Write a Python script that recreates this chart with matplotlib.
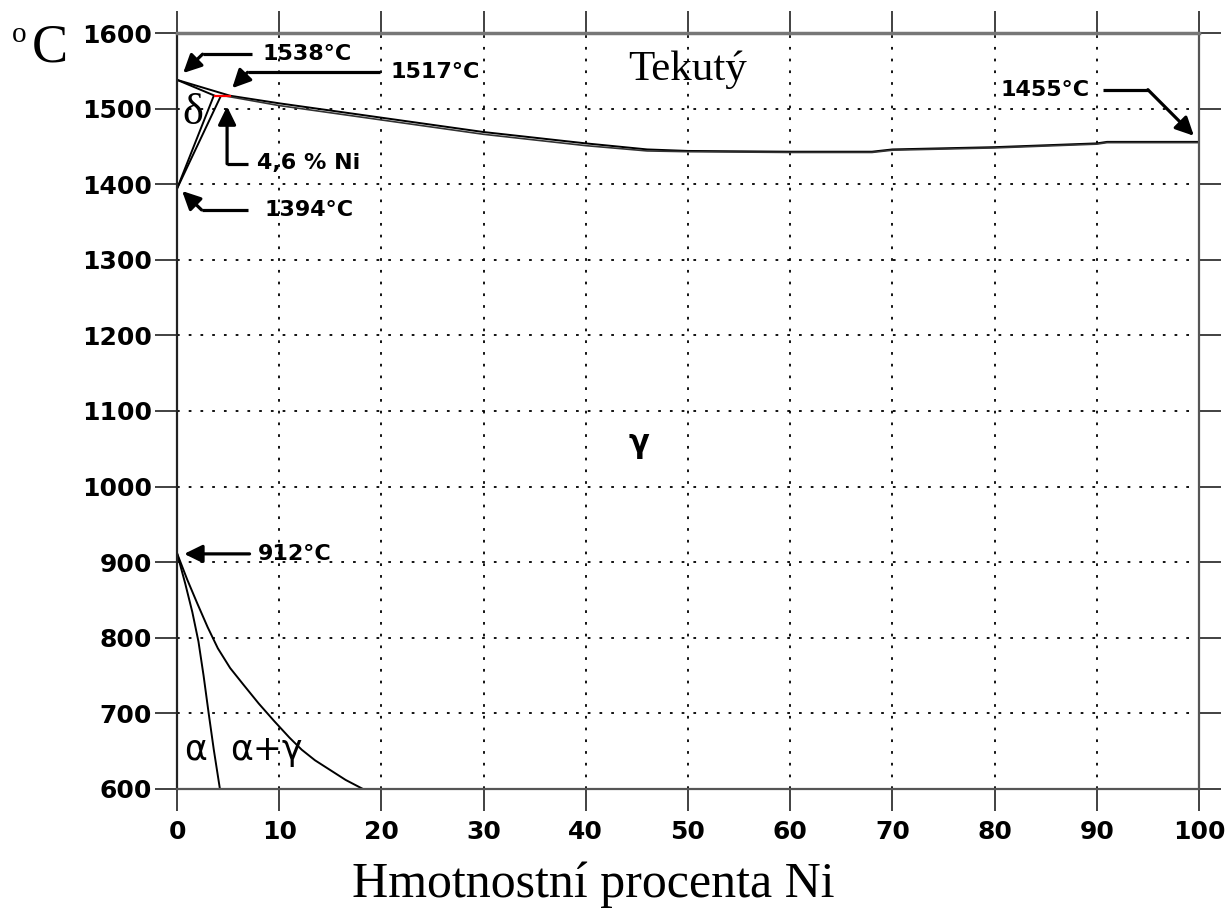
import matplotlib
matplotlib.use("Agg")
import matplotlib.pyplot as plt

# ---------------- data ----------------
x_ticks = [0, 10, 20, 30, 40, 50, 60, 70, 80, 90, 100]
y_ticks = [600, 700, 800, 900, 1000, 1100, 1200, 1300, 1400, 1500, 1600]

# liquidus (L / gamma and L / delta)
liq_x = [0, 5.2, 10, 20, 30, 40, 46, 50, 60, 68, 70, 80, 90, 91, 100]
liq_y = [1538, 1517, 1507, 1488, 1469, 1454, 1446, 1444, 1443, 1443, 1446, 1449, 1454, 1456, 1456]
# gamma solidus
sol_x = [4.6, 10, 20, 30, 40, 46, 50, 60, 68, 70, 80, 90, 91, 100]
sol_y = [1517, 1504, 1485, 1466, 1451, 1444, 1443, 1442, 1442, 1445, 1448, 1453, 1455, 1455]
# delta solidus
dsol_x = [0, 3.7]
dsol_y = [1538, 1517]
# delta solvus lines
dsv1_x = [0, 3.6]
dsv1_y = [1394, 1517]
dsv2_x = [0, 4.3]
dsv2_y = [1394, 1517]
# peritectic segment
per_x = [3.7, 5.2]
per_y = [1517, 1517]
# alpha / alpha+gamma boundary
a_x = [0, 0.8, 1.5, 2.1, 2.6, 3.1, 3.6, 4.2]
a_y = [912, 872, 834, 795, 750, 700, 652, 600]
# gamma / alpha+gamma boundary
g_x = [0, 1.0, 2.0, 3.0, 4.0, 5.2, 6.5, 8.0, 9.5, 11.0, 12.2, 13.5, 15.0, 16.5, 18.2]
g_y = [912, 877, 845, 814, 786, 760, 738, 713, 690, 668, 652, 638, 625, 612, 600]

# annotations: label, text pos, tail, bend, tip
annots = [
    ("1538°C", (8.4, 1572), (7.3, 1572), (2.5, 1572), (0.6, 1547)),
    ("1517°C", (20.9, 1548), (19.9, 1548), (6.9, 1548), (5.4, 1527)),
    ("4,6 % Ni", (7.8, 1428), (6.9, 1427), (4.9, 1427), (4.9, 1503)),
    ("1394°C", (8.6, 1366), (6.9, 1366), (2.4, 1366), (0.5, 1391)),
    ("912°C", (7.9, 911), (7.1, 911), (7.1, 911), (0.7, 911)),
    ("1455°C", (80.6, 1525), (90.6, 1525), (95.0, 1525), (99.5, 1464)),
]

# ---------------- figure ----------------
W, H = 1231, 908
fig = plt.figure(figsize=(W / 100, H / 100), dpi=100)
ax = fig.add_axes([177 / W, 1 - 789 / H, (1199 - 177) / W, (789 - 33) / H])
ax.set_xlim(0, 100)
ax.set_ylim(600, 1600)
ax.set_xticks(x_ticks)
ax.set_yticks(y_ticks)

ax.grid(True, color="black", linestyle=(0, (1.5, 5)), linewidth=1.3)
ax.tick_params(axis="both", which="major", direction="out", length=16, width=1.3,
               color="#333333", top=True, right=True, labeltop=False, labelright=False)
ax.tick_params(axis="x", pad=6)
ax.tick_params(axis="y", pad=2)
for lab in ax.get_xticklabels() + ax.get_yticklabels():
    lab.set_fontfamily("DejaVu Sans")
    lab.set_fontweight("bold")
    lab.set_fontsize(18)
for side, sp in ax.spines.items():
    sp.set_color("#555555")
    sp.set_linewidth(1.6)
ax.spines["top"].set_color("#777777")
ax.spines["top"].set_linewidth(2.5)
ax.spines["left"].set_color("#222222")

# phase lines
lk = dict(color="black", lw=1.4, solid_capstyle="round")
ax.plot(liq_x, liq_y, **lk)
ax.plot(sol_x, sol_y, color="#333333", lw=1.2)
ax.plot(dsol_x, dsol_y, **lk)
ax.plot(dsv1_x, dsv1_y, **lk)
ax.plot(dsv2_x, dsv2_y, **lk)
ax.plot(per_x, per_y, color="red", lw=1.6)
ax.plot(a_x, a_y, **lk)
ax.plot(g_x, g_y, **lk)

# arrows and labels
for text, tpos, tail, bend, tip in annots:
    ax.plot([tail[0], bend[0]], [tail[1], bend[1]], color="black", lw=2.3,
            solid_capstyle="butt")
    ax.annotate("", xy=tip, xytext=bend,
                arrowprops=dict(arrowstyle="-|>,head_length=0.55,head_width=0.27",
                                mutation_scale=20, lw=2.3, color="black",
                                shrinkA=0, shrinkB=0))
    ax.text(tpos[0], tpos[1], text, fontsize=16, fontweight="bold",
            family="DejaVu Sans", ha="left", va="center")

# region labels
ax.text(50.0, 1538, "Tekutý", fontsize=31, family="Liberation Serif",
        ha="center", va="baseline")
ax.text(1.5, 1494, "δ", fontsize=32, family="Liberation Serif", ha="center", va="center")
ax.text(45.2, 1056, "γ", fontsize=22, family="DejaVu Sans", fontweight="bold",
        ha="center", va="center")
ax.text(1.8, 652, "α", fontsize=25, family="DejaVu Sans", ha="center", va="center")
ax.text(8.7, 652, "α+γ", fontsize=25, family="DejaVu Sans", ha="center", va="center")

# axis labels
fig.text(32 / W, 1 - 62 / H, "C", fontsize=39, family="Liberation Serif",
         ha="left", va="baseline")
fig.text(12 / W, 1 - 42 / H, "o", fontsize=21, family="Liberation Serif",
         ha="left", va="baseline")
fig.text(593 / W, 1 - 897 / H, "Hmotnostní procenta Ni", fontsize=36,
         family="Liberation Serif", ha="center", va="baseline")

fig.savefig("out.png", dpi=100, facecolor="white")
